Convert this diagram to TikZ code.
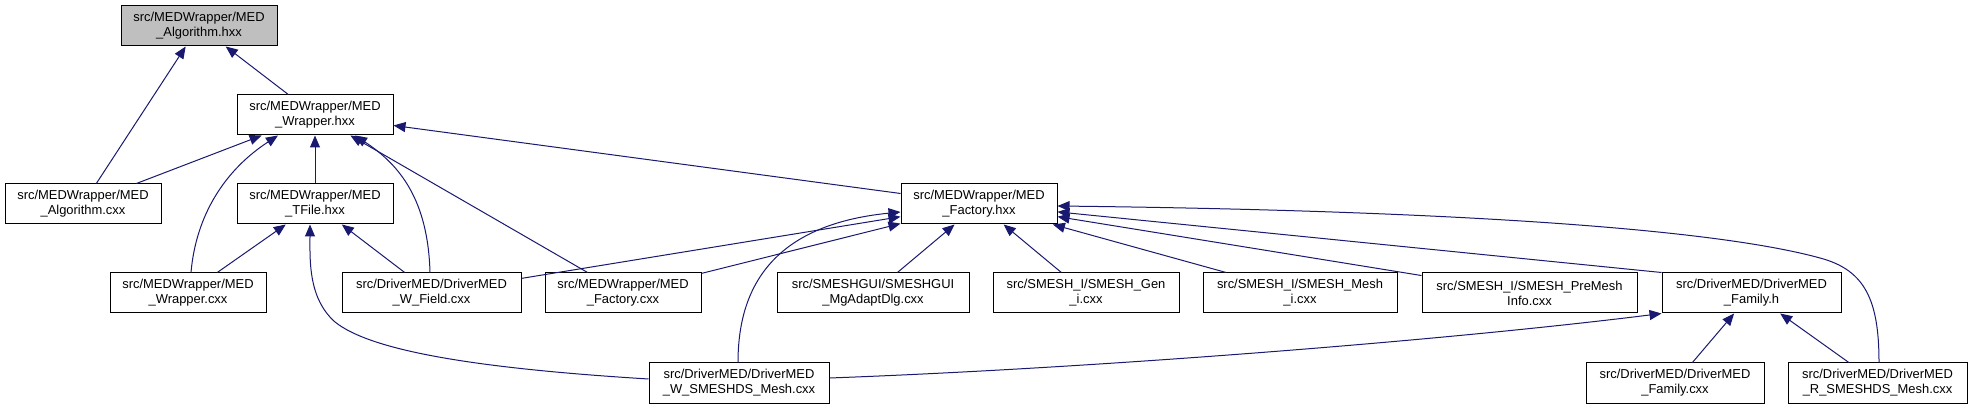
\documentclass[tikz,border=0pt]{standalone}
\usepackage{fontspec}
\setmainfont{Liberation Sans}
\usetikzlibrary{arrows.meta, calc}
\definecolor{edgeblue}{HTML}{191970}
\definecolor{rootgray}{HTML}{BFBFBF}

\begin{document}
\begin{tikzpicture}[
    x=0.75pt, y=-0.75pt,
    every node/.style={font=\fontsize{9.7}{11.2}\selectfont},
    file/.style={rectangle, draw=black, line width=0.75pt, fill=white, minimum width=117pt, minimum height=30pt, align=center, inner sep=0pt},
    dep/.style={-{Triangle[length=9pt, width=7.5pt]}, draw=edgeblue, line width=0.75pt}
]
\fill[white] (0,0) rectangle (1973,409);

\node[file, fill=rootgray] (alghxx) at (199, 26) {src/MEDWrapper/MED\\\_Algorithm.hxx};
\node[file] (wraphxx) at (315, 115) {src/MEDWrapper/MED\\\_Wrapper.hxx};
\node[file] (algcxx) at (83, 204) {src/MEDWrapper/MED\\\_Algorithm.cxx};
\node[file] (tfilehxx) at (315, 204) {src/MEDWrapper/MED\\\_TFile.hxx};
\node[file] (facthxx) at (979, 204) {src/MEDWrapper/MED\\\_Factory.hxx};

\node[file] (wrapcxx) at (188, 293) {src/MEDWrapper/MED\\\_Wrapper.cxx};
\node[file, minimum width=134.25pt] (wfield) at (431.5, 293) {src/DriverMED/DriverMED\\\_W\_Field.cxx};
\node[file] (factcxx) at (623, 293) {src/MEDWrapper/MED\\\_Factory.cxx};
\node[file, minimum width=144pt] (mgadapt) at (873, 293) {src/SMESHGUI/SMESHGUI\\\_MgAdaptDlg.cxx};
\node[file, minimum width=139.5pt] (geni) at (1086, 293) {src/SMESH\_I/SMESH\_Gen\\\_i.cxx};
\node[file, minimum width=145.5pt] (meshi) at (1300, 293) {src/SMESH\_I/SMESH\_Mesh\\\_i.cxx};
\node[file, minimum width=161.25pt] (premesh) at (1529.5, 293) {src/SMESH\_I/SMESH\_PreMesh\\Info.cxx};
\node[file, minimum width=134.25pt] (familyh) at (1751.5, 293) {src/DriverMED/DriverMED\\\_Family.h};

\node[file, minimum width=135pt] (wmesh) at (739, 383) {src/DriverMED/DriverMED\\\_W\_SMESHDS\_Mesh.cxx};
\node[file, minimum width=133.5pt] (familycxx) at (1675, 383) {src/DriverMED/DriverMED\\\_Family.cxx};
\node[file, minimum width=134.25pt] (rmesh) at (1877.5, 383) {src/DriverMED/DriverMED\\\_R\_SMESHDS\_Mesh.cxx};

% MED_Algorithm.hxx
\draw[dep] (wraphxx) -- (alghxx);
\draw[dep] (algcxx) -- (alghxx);

% MED_Wrapper.hxx
\draw[dep] (algcxx) -- (wraphxx);
\draw[dep] ($(wrapcxx.north)+(3,0)$) .. controls (196,215) and (225,170) .. ($(wraphxx.south)+(-37,0)$);
\draw[dep] (tfilehxx) -- (wraphxx);
\draw[dep] ($(wfield.north)+(-1.5,0)$) .. controls (428,200) and (400,165) .. ($(wraphxx.south)+(40,0)$);
\draw[dep] (factcxx) -- (wraphxx);
\draw[dep] (facthxx) -- (wraphxx);

% MED_TFile.hxx
\draw[dep] (wrapcxx) -- (tfilehxx);
\draw[dep] (wfield) -- (tfilehxx);
\draw[dep] ($(wmesh.west)+(0,-4)$) .. controls (470,368) and (370,350) .. (335,322)
    .. controls (308,298) and (310,260) .. ($(tfilehxx.south)+(-5,0)$);

% MED_Factory.hxx
\draw[dep] (wfield) -- (facthxx);
\draw[dep] (factcxx) -- (facthxx);
\draw[dep] ($(wmesh.north)+(-1,0)$) .. controls (738,290) and (770,225) .. ($(facthxx.west)+(0,8)$);
\draw[dep] (mgadapt) -- (facthxx);
\draw[dep] (geni) -- (facthxx);
\draw[dep] (meshi) -- (facthxx);
\draw[dep] (premesh) -- (facthxx);
\draw[dep] (familyh.north west) -- (facthxx);
\draw[dep] ($(rmesh.north)+(1.5,0)$) .. controls (1879,300) and (1865,270) .. (1820,258)
    .. controls (1700,225) and (1400,210) .. ($(facthxx.east)+(0,2)$);

% DriverMED_Family.h
\draw[dep] ($(wmesh.east)+(0,-5)$) .. controls (1100,368) and (1450,340) .. (familyh.south west);
\draw[dep] (familycxx) -- (familyh);
\draw[dep] (rmesh) -- (familyh);

\end{tikzpicture}
\end{document}
